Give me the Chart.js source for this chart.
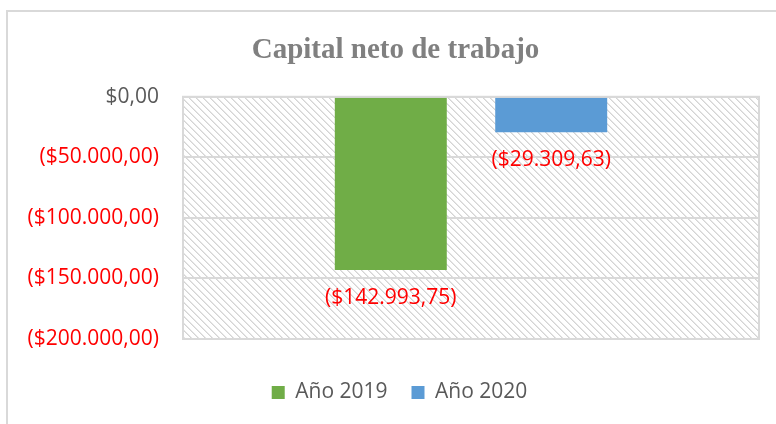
<!DOCTYPE html>
<html>
<head>
<meta charset="utf-8">
<script src="https://cdn.jsdelivr.net/npm/chart.js@4.4.1/dist/chart.umd.min.js"></script>
<style>
  html, body { margin: 0; padding: 0; background: #ffffff; overflow: hidden; }
  #wrap { position: relative; width: 776px; height: 424px; }
  #frame { position: absolute; left: 6px; top: 10px; width: 800px; height: 500px; border: 2px solid #d9d9d9; box-sizing: border-box; }
  canvas { position: absolute; left: 0; top: 0; }
</style>
</head>
<body>
<div id="wrap">
  <div id="frame"></div>
  <canvas id="c" width="776" height="424"></canvas>
</div>
<script>
const chartTitle = 'Capital neto de trabajo';
const categories = [''];
const seriesNames = ['Año 2019', 'Año 2020'];
const values2019 = [-142993.75];
const values2020 = [-29309.63];
const dataLabels2019 = ['($142.993,75)'];
const dataLabels2020 = ['($29.309,63)'];
const tickValues = [0, -50000, -100000, -150000, -200000];
const tickLabels = ['$0,00', '($50.000,00)', '($100.000,00)', '($150.000,00)', '($200.000,00)'];

const seriesColors = ['#70AD47', '#5B9BD5'];
const labelFont = "'Open Sans', 'Liberation Sans', sans-serif";

function makePattern() {
  const n = 7;
  const p = document.createElement('canvas');
  p.width = n; p.height = n;
  const g = p.getContext('2d');
  g.fillStyle = '#ffffff';
  g.fillRect(0, 0, n, n);
  for (let i = 0; i < n; i++) {
    g.fillStyle = '#d4d4d4';
    g.fillRect(i, i, 1, 1);
    g.fillStyle = '#e6e6e6';
    g.fillRect((i + 1) % n, i, 1, 1);
  }
  return document.getElementById('c').getContext('2d').createPattern(p, 'repeat');
}
const hatch = makePattern();

const plotBg = {
  id: 'plotBg',
  beforeDraw(chart) {
    const {ctx, chartArea: a} = chart;
    ctx.save();
    ctx.fillStyle = hatch;
    ctx.fillRect(a.left, a.top, a.right - a.left, a.bottom - a.top);
    ctx.restore();
  },
  afterDraw(chart) {
    const {ctx, chartArea: a} = chart;
    ctx.save();
    ctx.strokeStyle = '#d9d9d9';
    ctx.lineWidth = 2;
    ctx.strokeRect(a.left, a.top, a.right - a.left, a.bottom - a.top);
    ctx.restore();
  }
};

// centre title and legend on the outer chart frame rather than the padded box
const shiftBlocks = {
  id: 'shiftBlocks',
  afterLayout(chart) {
    const t = chart.titleBlock;
    if (t) { t.left += 6; t.right += 6; }
    const l = chart.legend;
    if (l) { l.left += 10; l.right += 10; }
  }
};

const barLabels = {
  id: 'barLabels',
  afterDatasetsDraw(chart) {
    const {ctx} = chart;
    const sets = [dataLabels2019, dataLabels2020];
    ctx.save();
    ctx.fillStyle = '#FF0000';
    ctx.font = '21px ' + labelFont;
    ctx.textAlign = 'center';
    ctx.textBaseline = 'middle';
    chart.data.datasets.forEach((ds, di) => {
      chart.getDatasetMeta(di).data.forEach((bar, i) => {
        ctx.fillText(sets[di][i], bar.x, bar.y + 28);
      });
    });
    ctx.restore();
  }
};

new Chart(document.getElementById('c'), {
  type: 'bar',
  data: {
    labels: categories,
    datasets: [
      { label: seriesNames[0], data: values2019, backgroundColor: seriesColors[0] },
      { label: seriesNames[1], data: values2020, backgroundColor: seriesColors[1] }
    ]
  },
  options: {
    responsive: false,
    devicePixelRatio: 1,
    animation: false,
    categoryPercentage: 0.557,
    barPercentage: 0.698,
    layout: { padding: { left: 20, right: 17, top: 33, bottom: 11 } },
    plugins: {
      title: {
        display: true,
        text: chartTitle,
        color: '#808080',
        font: { family: "'Liberation Serif', 'Times New Roman', serif", size: 29, weight: 'bold' },
        padding: { top: 0, bottom: 29 }
      },
      legend: {
        position: 'bottom',
        labels: {
          color: '#595959',
          font: { family: labelFont, size: 21 },
          boxWidth: 13,
          boxHeight: 13,
          padding: 24
        }
      },
      tooltip: { enabled: false }
    },
    scales: {
      x: {
        display: true,
        grid: { display: false, drawTicks: false },
        border: { display: false },
        ticks: { display: false },
        afterFit(s) { s.height = 19; }
      },
      y: {
        min: -200000,
        max: 0,
        afterBuildTicks(s) { s.ticks = tickValues.map(v => ({ value: v })); },
        afterFit(s) { s.width = 163; },
        grid: { color: '#d9d9d9', lineWidth: 2, drawTicks: false },
        border: { display: false },
        ticks: {
          padding: 24,
          font: { family: labelFont, size: 21 },
          color: ctx => (ctx.tick && ctx.tick.value < 0) ? '#FF0000' : '#595959',
          callback: (v) => tickLabels[tickValues.indexOf(v)]
        }
      }
    }
  },
  plugins: [plotBg, shiftBlocks, barLabels]
});
</script>
</body>
</html>
